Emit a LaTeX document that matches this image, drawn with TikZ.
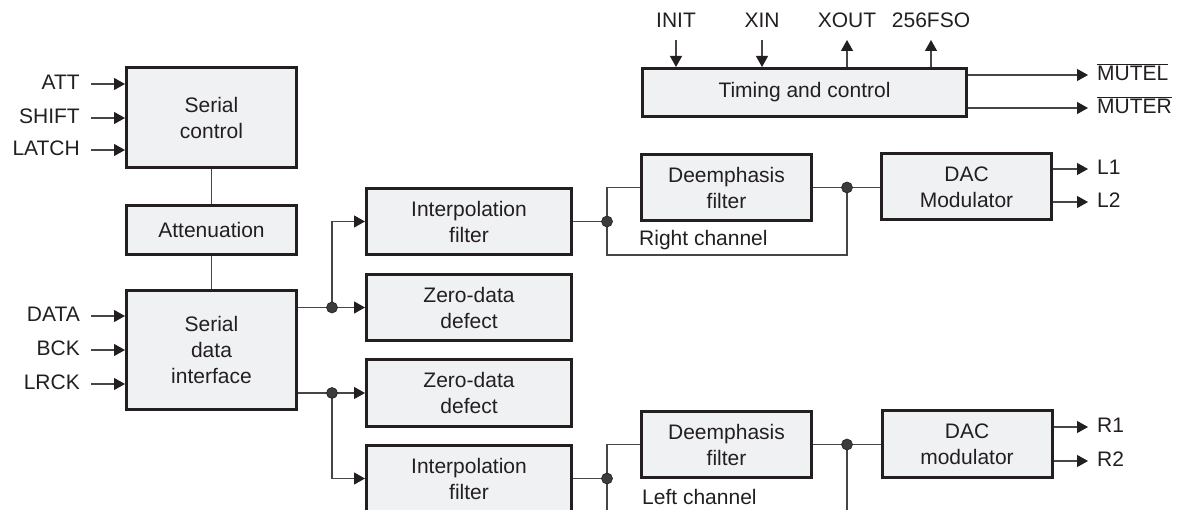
\documentclass[tikz,border=0pt]{standalone}
\usepackage{fontspec}
\setmainfont{Liberation Sans}
\usetikzlibrary{arrows.meta,calc}
\definecolor{ink}{RGB}{35,31,32}
\definecolor{boxfill}{RGB}{240,241,243}
\definecolor{wirec}{RGB}{70,70,70}
\definecolor{dotc}{RGB}{60,60,60}
\begin{document}
\begin{tikzpicture}[x=1pt,y=-1pt,
  font=\fontsize{21}{26}\selectfont, text=ink,
  blk/.style={draw=ink, fill=boxfill, line width=3pt, inner sep=0pt, align=center},
  wire/.style={draw=wirec, line width=1.2pt},
  arr/.style={wire, -{Triangle[length=11pt,width=12pt,color=ink]}},
  jdot/.style={circle, fill=dotc, draw=ink, line width=0.6pt, minimum size=11pt, inner sep=0pt},
  lblL/.style={anchor=east, inner xsep=11pt, inner ysep=0pt, text height=15pt, text depth=4pt},
  lblR/.style={anchor=west, inner xsep=9pt, inner ysep=0pt, text height=15pt, text depth=4pt},
  lblT/.style={anchor=south, inner ysep=12pt, inner xsep=0pt, text depth=0pt},
  chan/.style={anchor=base west, inner sep=0pt}
]
\useasboundingbox (0,0) rectangle (1185,510);
\clip (0,0) rectangle (1185,510);

% blocks
\node[blk, minimum width=170pt, minimum height=100pt] (sc)   at (211.5,117.5) {Serial\\control};
\node[blk, minimum width=170pt, minimum height=49pt]  (att)  at (211.5,230)   {Attenuation};
\node[blk, minimum width=170pt, minimum height=119pt] (sdi)  at (211.5,350)   {Serial\\data\\interface};
\node[blk, minimum width=205pt, minimum height=66pt]  (if1)  at (469,221.5)   {Interpolation\\filter};
\node[blk, minimum width=205pt, minimum height=66pt]  (zd1)  at (469,307.5)   {Zero-data\\defect};
\node[blk, minimum width=205pt, minimum height=67pt]  (zd2)  at (469,393)     {Zero-data\\defect};
\node[blk, minimum width=205pt, minimum height=66pt]  (if2)  at (469,478.5)   {Interpolation\\filter};
\node[blk, minimum width=170pt, minimum height=66pt]  (de1)  at (726.5,187.5) {Deemphasis\\filter};
\node[blk, minimum width=170pt, minimum height=66pt]  (dac1) at (966.5,187)   {DAC\\Modulator};
\node[blk, minimum width=170pt, minimum height=66pt]  (de2)  at (726.5,444.5) {Deemphasis\\filter};
\node[blk, minimum width=170pt, minimum height=67pt]  (dac2) at (967,444)     {DAC\\modulator};
\node[blk, minimum width=324pt, minimum height=48pt]  (tc)   at (804.5,92.5)  {Timing and control};

% left inputs
\node[lblL] (ATT)   at (91,84)  {ATT};
\node[lblL] (SHIFT) at (91,118) {SHIFT};
\node[lblL] (LATCH) at (91,150) {LATCH};
\node[lblL] (DATA)  at (91,316) {DATA};
\node[lblL] (BCK)   at (91,350) {BCK};
\node[lblL] (LRCK)  at (91,384) {LRCK};
\foreach \n/\b in {ATT/sc,SHIFT/sc,LATCH/sc,DATA/sdi,BCK/sdi,LRCK/sdi}
  \draw[arr] (\n.east) -- (\n.east -| \b.west);

% vertical links on the left
\draw[wire] (sc.south) -- (att.north);
\draw[wire] (att.south) -- (sdi.north);

% timing signals
\node[lblT] (INIT) at (676,40) {INIT};
\node[lblT] (XIN)  at (762,40) {XIN};
\node[lblT] (XOUT) at (847,40) {XOUT};
\node[lblT] (FSO)  at (931,40) {256FSO};
\draw[arr] (INIT.south) -- (INIT.south |- tc.north);
\draw[arr] (XIN.south) -- (XIN.south |- tc.north);
\draw[arr] (XOUT.south |- tc.north) -- (XOUT.south);
\draw[arr] (FSO.south |- tc.north) -- (FSO.south);

% right outputs
\node[lblR] (MUTEL) at (1088,75)  {$\overline{\mbox{MUTEL}}$};
\node[lblR] (MUTER) at (1088,108) {$\overline{\mbox{MUTER}}$};
\node[lblR] (L1)    at (1088,169) {L1};
\node[lblR] (L2)    at (1088,202) {L2};
\node[lblR] (R1)    at (1088,427) {R1};
\node[lblR] (R2)    at (1088,461) {R2};
\foreach \n/\b in {MUTEL/tc,MUTER/tc,L1/dac1,L2/dac1,R1/dac2,R2/dac2}
  \draw[arr] (\n.west -| \b.east) -- (\n.west);

% junctions
\coordinate (j1) at (332,307.5);
\coordinate (j2) at (332,393);
\coordinate (j3) at (607,221.5);
\coordinate (j4) at (847,187.5);
\coordinate (j5) at (607,478.5);
\coordinate (j6) at (847,444.5);
\coordinate (c1) at (607,255);
\coordinate (c2) at (607,530);
\coordinate (c3) at (847,530);

\draw[wire] (sdi.east |- j1) -- (j1);
\draw[arr] (j1) -- (zd1.west);
\draw[arr] (j1) |- (if1.west);
\draw[wire] (sdi.east |- j2) -- (j2);
\draw[arr] (j2) -- (zd2.west);
\draw[arr] (j2) |- (if2.west);

\draw[wire] (if1.east) -- (j3);
\draw[wire] (de1.west) -| (c1) -| (j4);
\draw[wire] (de1.east) -- (j4) -- (dac1.west |- j4);

\draw[wire] (if2.east) -- (j5);
\draw[wire] (de2.west) -| (c2);
\draw[wire] (de2.east) -- (j6) -- (dac2.west |- j6);
\draw[wire] (j6) -- (c3);

\foreach \j in {j1,j2,j3,j4,j5,j6}
  \node[jdot] (\j d) at (\j) {};

% channel labels
\node[chan] (rch) at (639,246) {Right channel};
\node[chan] (lch) at (642,504) {Left channel};
\end{tikzpicture}
\end{document}
